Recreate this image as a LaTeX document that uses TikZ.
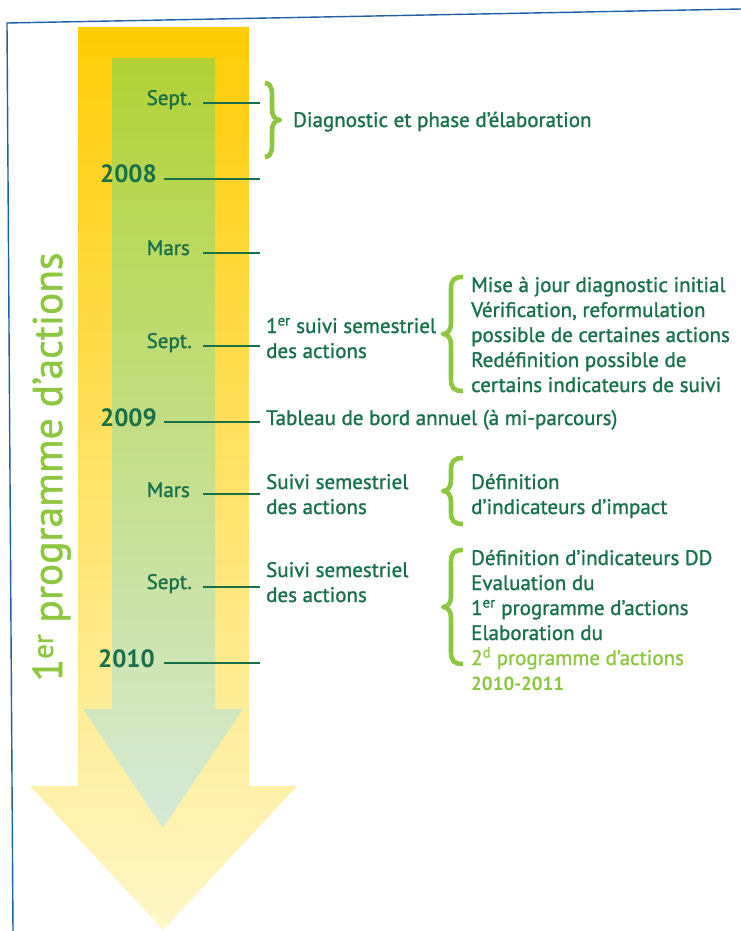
\documentclass[tikz,border=0pt]{standalone}
\usepackage{fontspec}
\setmainfont{PT Sans}[FakeBold=1.2, BoldFont={PT Sans Bold}, BoldFeatures={FakeBold=0}]
\definecolor{dkgreen}{HTML}{18704A}
\definecolor{ltgreen}{HTML}{8DC63F}
\definecolor{frameblue}{HTML}{1F5FA6}
\definecolor{yelA}{HTML}{FFCC05}
\definecolor{yelB}{HTML}{FFDA60}
\definecolor{yelC}{HTML}{FFF7C8}
\definecolor{grnA}{HTML}{B2D236}
\definecolor{grnB}{HTML}{BED96A}
\definecolor{grnC}{HTML}{D5EAD8}
\begin{document}
\begin{tikzpicture}[x=1pt,y=-1pt,
  txt/.style={font=\fontsize{21}{25}\selectfont, text=dkgreen, inner sep=0pt, align=left, anchor=base west},
  mon/.style={txt, anchor=base east},
  yr/.style={font=\fontsize{25}{28}\selectfont\bfseries, text=dkgreen, inner sep=0pt, anchor=base east},
  tick/.style={dkgreen, line width=1.3pt},
  brc/.style={ltgreen, line width=4.6pt, line join=round},
  pics/lbrc/.style 2 args={code={
    \draw[brc] (#2,-#1) .. controls (3,-#1) and (0,-#1+3) .. (0,-#1+12)
      -- (0,-11) .. controls (0,-4) and (-3,0) .. (-8,0)
      .. controls (-3,0) and (0,4) .. (0,11)
      -- (0,#1-12) .. controls (0,#1-3) and (3,#1) .. (#2,#1);
  }},
]
\useasboundingbox (0,0) rectangle (741,931);
% frame
\draw[frameblue, line width=1.4pt] (741,9) -- (7,23) -- (13,931);
% outer yellow arrow
\shade[top color=yelA, middle color=yelB, bottom color=yelC]
  (78,27) -- (249,27) -- (249,786) -- (297,786) -- (163,930) -- (30,786) -- (78,786) -- cycle;
% inner green arrow
\shade[top color=grnA, middle color=grnB, bottom color=grnC]
  (112,58) -- (215,58) -- (215,709) -- (243,709) -- (163,828) -- (83,709) -- (112,709) -- cycle;
% rotated title
\node[rotate=90, anchor=base, text=ltgreen, font=\fontsize{41.5}{44}\selectfont, inner sep=0pt]
  (title) at (62,467) {1\textsuperscript{er} programme d’actions};

% month / year labels
\node[mon] (m1) at (192,105) {Sept.};
\node[yr]  (y1) at (157,182) {2008};
\node[mon] (m2) at (190,255) {Mars};
\node[mon] (m3) at (192,348) {Sept.};
\node[yr]  (y2) at (157,426) {2009};
\node[mon] (m4) at (190,497) {Mars};
\node[mon] (m5) at (192,589) {Sept.};
\node[yr]  (y3) at (155,667) {2010};

\foreach \n/\y/\s in {m1/103/11, y1/179/7, m2/253/13, m3/346/11, y2/422/7, m4/494/13, m5/587/11, y3/663/9}{
  \coordinate (e\n) at (260,\y);
  \draw[tick] ([xshift=\s pt]\n.east |- e\n) -- (e\n);
}

% middle texts (anchor = baseline of last line)
\node[txt] (t1) at (293,127) {Diagnostic et phase d’élaboration};
\node[txt] (t3) at (266,358) {1\textsuperscript{er} suivi semestriel\\des actions};
\node[txt] (t4) at (266,425) {Tableau de bord annuel (à mi-parcours)};
\node[txt] (t5) at (266,514) {Suivi semestriel\\des actions};
\node[txt] (t6) at (266,602) {Suivi semestriel\\des actions};

% right texts
\node[txt] (r3) at (471,392) {Mise à jour diagnostic initial\\Vérification, reformulation\\possible de certaines actions\\Redéfinition possible de\\certains indicateurs de suivi};
\node[txt] (r5) at (471,514) {Définition\\d’indicateurs d’impact};
\node[txt] (r6) at (471,690) {Définition d’indicateurs DD\\Evaluation du\\1\textsuperscript{er} programme d’actions\\Elaboration du\\\textcolor{ltgreen}{2\textsuperscript{d} programme d’actions}\\\textcolor{ltgreen}{\fontsize{19}{25}\selectfont\bfseries 2010-2011}};

% braces
\pic[xscale=-1] at (272,120) {lbrc={37}{7}};
\pic at (451,334) {lbrc={57}{12}};
\pic at (451,491) {lbrc={33}{12}};
\pic at (451,607) {lbrc={57}{12}};
\end{tikzpicture}
\end{document}
